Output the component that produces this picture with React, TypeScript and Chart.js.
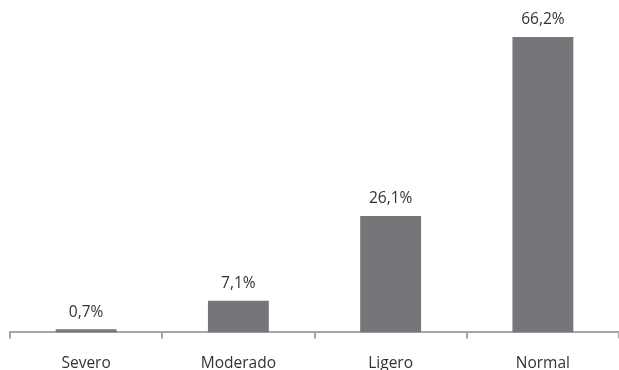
import React, { useEffect, useRef } from "react";
import { Chart, registerables } from "chart.js";

Chart.register(...registerables);

const categories = ["Severo", "Moderado", "Ligero", "Normal"];
const values = [0.7, 7.1, 26.1, 66.2];
const valueLabels = ["0,7%", "7,1%", "26,1%", "66,2%"];

const FONT = "'Open Sans', sans-serif";
const FONT_SIZE = 15.5;

const dataLabelPlugin = {
  id: "dataLabels",
  afterDatasetsDraw(chart: any) {
    const ctx = chart.ctx;
    const meta = chart.getDatasetMeta(0);
    ctx.save();
    ctx.font = `${FONT_SIZE}px ${FONT}`;
    ctx.fillStyle = "#333333";
    ctx.textAlign = "center";
    ctx.textBaseline = "middle";
    meta.data.forEach((bar: any, i: number) => {
      ctx.fillText(valueLabels[i], bar.x, bar.y - 17);
    });
    ctx.restore();
  },
};

export default function App() {
  const ref = useRef<HTMLCanvasElement>(null);
  useEffect(() => {
    if (!ref.current) return;
    const chart = new Chart(ref.current, {
      type: "bar",
      data: {
        labels: categories,
        datasets: [
          {
            data: values,
            backgroundColor: "#76767a",
            barPercentage: 0.8,
            categoryPercentage: 0.5,
          },
        ],
      },
      options: {
        animation: false,
        responsive: false,
        maintainAspectRatio: false,
        layout: { padding: { top: 20, left: 10, right: 0, bottom: -19 } },
        plugins: { legend: { display: false }, tooltip: { enabled: false } },
        scales: {
          y: { display: false, min: 0, max: 70 },
          x: {
            grid: {
              offset: true,
              drawOnChartArea: false,
              drawTicks: true,
              tickLength: 6,
              color: "#a6a6a6",
              lineWidth: 2,
            },
            border: { display: true, color: "#a6a6a6", width: 2 },
            ticks: {
              color: "#333333",
              font: { family: FONT, size: FONT_SIZE },
              padding: 16,
            },
          },
        },
      },
      plugins: [dataLabelPlugin],
    });
    return () => chart.destroy();
  }, []);
  return (
    <div style={{ position: "absolute", left: 0, top: 0, width: 619, height: 370, background: "#fff" }}>
      <canvas ref={ref} width={619} height={370} />
    </div>
  );
}
